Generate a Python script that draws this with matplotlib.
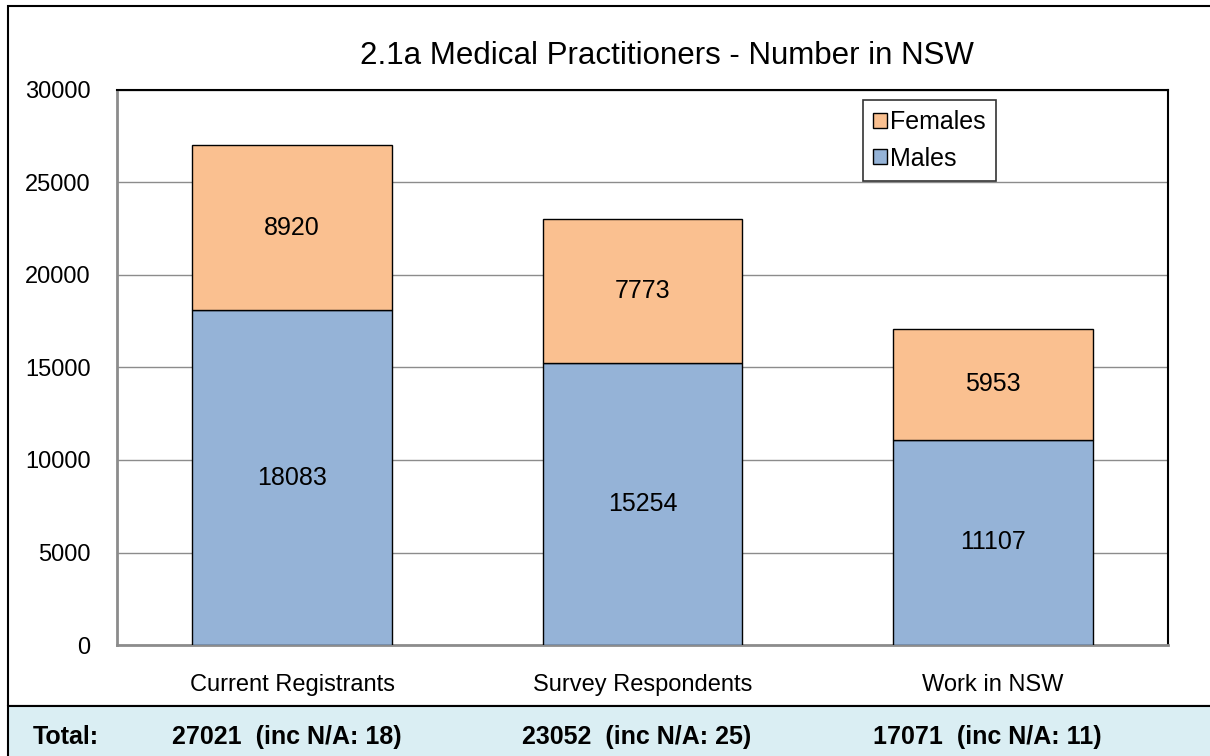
import numpy as np
from matplotlib import pyplot as plt
from matplotlib.patches import Rectangle

plt.rcParams['font.family'] = ['Liberation Sans', 'DejaVu Sans']

categories = ["Current Registrants", "Survey Respondents", "Work in NSW"]
males = [18083, 15254, 11107]
females = [8920, 7773, 5953]
totals = [27021, 23052, 17071]
na_counts = [18, 25, 11]

W, H = 1210, 756
fig = plt.figure(figsize=(W / 100, H / 100), dpi=100)

# outer chart border and the bottom band with totals
band_top = 706
fig.patches.append(Rectangle((8 / W, 1 - band_top / H), 1.2, (band_top - 6) / H, transform=fig.transFigure,
                             fill=False, edgecolor="black", linewidth=1.5))
fig.patches.append(Rectangle((8 / W, -0.01), 1.2, 1 - band_top / H + 0.01, transform=fig.transFigure,
                             facecolor="#DAEEF3", edgecolor="black", linewidth=1.5))

ax = fig.add_axes([117 / W, 1 - 645 / H, (1168 - 117) / W, (645 - 90) / H])
x = np.arange(len(categories))
male_col = "#95B3D7"
female_col = "#FAC090"
bm = ax.bar(x, males, width=0.57, color=male_col, edgecolor="black", linewidth=1, label="Males", zorder=3)
bf = ax.bar(x, females, width=0.57, bottom=males, color=female_col, edgecolor="black", linewidth=1,
            label="Females", zorder=3)

for i in range(len(categories)):
    ax.text(x[i], males[i] / 2, str(males[i]), ha="center", va="center", fontsize=18, zorder=4)
    ax.text(x[i], males[i] + females[i] / 2, str(females[i]), ha="center", va="center", fontsize=18, zorder=4)

ax.set_xlim(-0.5, 2.5)
ax.set_ylim(0, 30000)
ax.set_yticks(range(0, 30001, 5000))
ax.yaxis.grid(True, color="#8C8C8C", linewidth=1, zorder=0)
ax.set_xticks(x)
ax.set_xticklabels(categories, fontsize=17)
ax.tick_params(axis="y", labelsize=17, length=0, pad=19)
ax.tick_params(axis="x", length=0, pad=21)
for s in ["left", "bottom"]:
    ax.spines[s].set_color("#8C8C8C")
    ax.spines[s].set_linewidth(2)
for s in ["top", "right"]:
    ax.spines[s].set_color("black")
    ax.spines[s].set_linewidth(1.5)

fig.text(667 / W, 1 - 56 / H, "2.1a Medical Practitioners - Number in NSW", fontsize=22.5,
         ha="center", va="center")

leg = ax.legend(handles=[bf, bm], labels=["Females", "Males"], loc="upper left",
                bbox_to_anchor=((863 - 117) / (1168 - 117), 1 - 10 / 555), borderaxespad=0, fontsize=18,
                frameon=True, fancybox=False, edgecolor="black", handlelength=0.55, handleheight=0.55,
                handletextpad=0.15, borderpad=0.4, labelspacing=0.5)
leg.get_frame().set_linewidth(1.2)

fig.text(33 / W, 1 - 737 / H, "Total:", fontsize=18, fontweight="bold", va="center")
xs = [172, 522, 873]
for i in range(len(totals)):
    fig.text(xs[i] / W, 1 - 737 / H, "%d  (inc N/A: %d)" % (totals[i], na_counts[i]),
             fontsize=18, fontweight="bold", va="center")

fig.savefig("out.png", dpi=100)
